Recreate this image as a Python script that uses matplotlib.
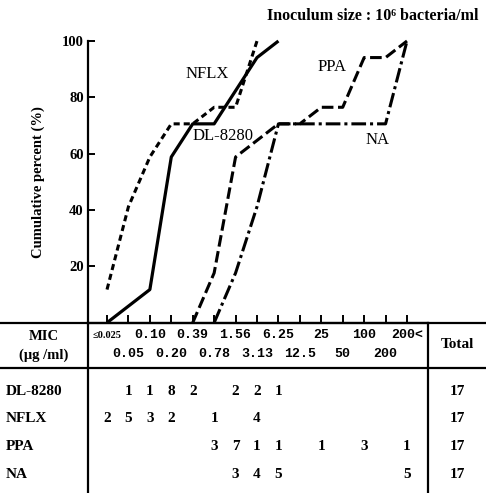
import numpy as np
import matplotlib
matplotlib.use("Agg")
from matplotlib import pyplot as plt
from matplotlib import transforms
from matplotlib.lines import Line2D

# MIC classes (ug/ml) and number of strains per class
mic_top = ["≤0.025", "", "0.10", "", "0.39", "", "1.56", "", "6.25", "", "25", "", "100", "", "200<"]
mic_bottom = ["", "0.05", "", "0.20", "", "0.78", "", "3.13", "", "12.5", "", "50", "", "200", ""]

drugs = ["DL-8280", "NFLX", "PPA", "NA"]
dl8280 = [0, 1, 1, 8, 2, 0, 2, 2, 1, 0, 0, 0, 0, 0, 0]
nflx = [2, 5, 3, 2, 0, 1, 0, 4, 0, 0, 0, 0, 0, 0, 0]
ppa = [0, 0, 0, 0, 0, 3, 7, 1, 1, 0, 1, 0, 3, 0, 1]
na = [0, 0, 0, 0, 0, 0, 3, 4, 5, 0, 0, 0, 0, 0, 5]
y_ticks = [20, 40, 60, 80, 100]

W, H = 486, 493
SERIF = "Liberation Serif"


def fy(py):
  return 1 - py / H


def fx(px):
  return px / W


fig = plt.figure(figsize=(W / 100, H / 100), dpi=100)
ax = fig.add_axes([fx(88), fy(322.7), fx(428) - fx(88), fy(41) - fy(322.7)])

styles = {
  "DL-8280": dict(linestyle="-", lw=2.3),
  "NFLX": dict(linestyle=(0, (2.0, 1.3)), lw=2.2),
  "PPA": dict(linestyle=(0, (3.8, 1.5)), lw=2.2),
  "NA": dict(linestyle=(0, (4.8, 1.3, 1.0, 1.3)), lw=2.2),
}

idx = np.arange(len(mic_top))
for name, counts in zip(drugs, [dl8280, nflx, ppa, na]):
  c = np.asarray(counts)
  cum = np.cumsum(c) / c.sum() * 100
  nz = np.nonzero(c)[0]
  start = max(nz[0] - 1, 0)
  stop = nz[-1]
  ax.plot(idx[start:stop + 1], cum[start:stop + 1], color="black",
          clip_on=False, solid_capstyle="butt", **styles[name])

ax.set_xlim(-0.887, 14.98)
ax.set_ylim(0, 100)
ax.set_xticks(idx)
ax.set_xticklabels([])
ax.set_yticks(y_ticks)
ax.set_yticklabels([str(v) for v in y_ticks], fontfamily=SERIF,
                   fontweight="bold", fontsize=10.5)
ax.tick_params(axis="both", direction="in", length=5, width=1.4, pad=3)
ax.tick_params(axis="x", length=6)
for s in ["top", "right"]:
  ax.spines[s].set_visible(False)
ax.spines["left"].set_linewidth(1.6)
ax.spines["bottom"].set_linewidth(1.6)

ax.set_ylabel("Cumulative percent (%)", fontfamily=SERIF, fontweight="bold",
              fontsize=10.5, labelpad=12)

# curve labels
lab_kw = dict(fontfamily=SERIF, fontsize=12, ha="center", va="center")
fig.text(fx(207), fy(74), "NFLX", **lab_kw)
fig.text(fx(223), fy(136), "DL-8280", **lab_kw)
fig.text(fx(332), fy(67), "PPA", **lab_kw)
fig.text(fx(378), fy(140), "NA", **lab_kw)

fig.text(fx(478), fy(16.5), "Inoculum size : 10⁶ bacteria/ml", fontfamily=SERIF,
         fontweight="bold", fontsize=11.5, ha="right", va="center")

# table frame
lw = 1.6
fig.add_artist(Line2D([0, 1], [fy(322.7)] * 2, color="black", lw=lw))
fig.add_artist(Line2D([0, 1], [fy(367.5)] * 2, color="black", lw=lw))
fig.add_artist(Line2D([fx(88)] * 2, [fy(322.7), 0], color="black", lw=lw))
fig.add_artist(Line2D([fx(428)] * 2, [fy(322.7), 0], color="black", lw=lw))

trans = transforms.blended_transform_factory(ax.transData, fig.transFigure)

hdr_kw = dict(fontfamily="Liberation Mono", fontsize=9.5, fontweight="bold",
              ha="center", va="center")
for i, (t, b) in enumerate(zip(mic_top, mic_bottom)):
  if t:
    small = t.startswith("≤")
    ax.text(i, fy(335), t, transform=trans, clip_on=False,
            **{**hdr_kw, "fontsize": 7.5 if small else 9.5,
               "fontfamily": SERIF if small else "Liberation Mono"})
  if b:
    ax.text(i, fy(354), b, transform=trans, clip_on=False, **hdr_kw)

fig.text(fx(44), fy(337), "MIC", fontfamily=SERIF, fontweight="bold",
         fontsize=10.5, ha="center", va="center")
fig.text(fx(44), fy(355), "(μg /ml)", fontfamily=SERIF, fontweight="bold",
         fontsize=10.5, ha="center", va="center")
fig.text(fx(457), fy(345), "Total", fontfamily=SERIF, fontweight="bold",
         fontsize=11, ha="center", va="center")

row_y = [391.7, 419, 446.7, 474]
cell_kw = dict(fontfamily=SERIF, fontweight="bold", fontsize=11,
               ha="center", va="center")
for name, counts, py in zip(drugs, [dl8280, nflx, ppa, na], row_y):
  fig.text(fx(6), fy(py), name, fontfamily=SERIF, fontweight="bold",
           fontsize=11, ha="left", va="center")
  for i, n in enumerate(counts):
    if n:
      ax.text(i, fy(py), str(n), transform=trans, clip_on=False, **cell_kw)
  fig.text(fx(457), fy(py), str(sum(counts)), **cell_kw)

fig.savefig("out.png", dpi=100)
